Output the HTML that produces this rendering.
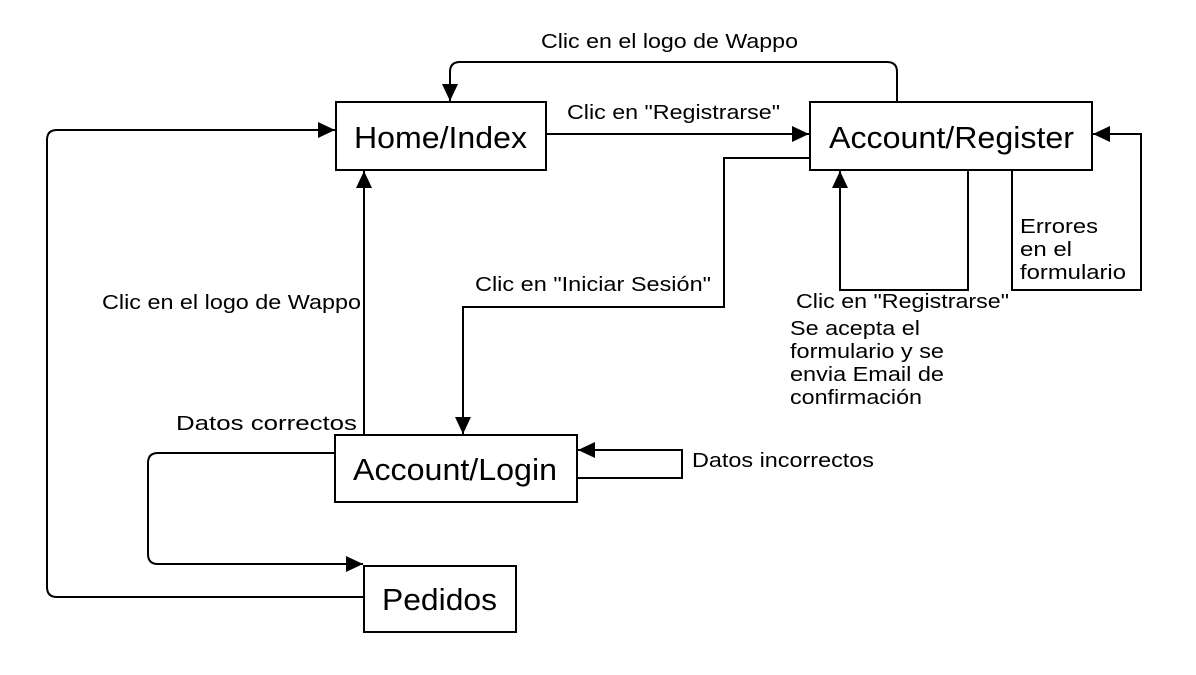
<!DOCTYPE html>
<html><head><meta charset="utf-8"><style>
html,body{margin:0;padding:0;background:#fff;}
svg text{font-family:"Liberation Sans",sans-serif;fill:#000;}
</style></head><body>
<svg width="1196" height="670" viewBox="0 0 1196 670" xmlns="http://www.w3.org/2000/svg">
<defs>
<marker id="b" markerWidth="18" markerHeight="18" refX="17" refY="9" orient="auto" markerUnits="userSpaceOnUse" viewBox="0 0 18 18"><path d="M0,1 L17,9 L0,17 z" fill="#000"/></marker></defs>
<g fill="none" stroke="#000" stroke-width="2">
<rect x="336" y="102" width="210" height="68" fill="#fff"/>
<rect x="810" y="102" width="282" height="68" fill="#fff"/>
<rect x="335" y="435" width="242" height="67" fill="#fff"/>
<rect x="364" y="566" width="152" height="66" fill="#fff"/>
<path d="M897,102 V72 Q897,62 887,62 H460 Q450,62 450,72 V101" marker-end="url(#b)"/>
<path d="M546,134 H809" marker-end="url(#b)"/>
<path d="M1012,170 V290 H1141 V134 H1093" marker-end="url(#b)"/>
<path d="M968,170 V290 H840 V171" marker-end="url(#b)"/>
<path d="M810,158 H724 V307 H463 V434" marker-end="url(#b)"/>
<path d="M364,435 V171" marker-end="url(#b)"/>
<path d="M577,478 H682 V450 H578" marker-end="url(#b)"/>
<path d="M335,453 H158 Q148,453 148,463 V554 Q148,564 158,564 H363" marker-end="url(#b)"/>
<path d="M364,597 H57 Q47,597 47,587 V140 Q47,130 57,130 H335" marker-end="url(#b)"/>
</g>
<g font-size="31" lengthAdjust="spacingAndGlyphs">
<text x="354" y="148" textLength="173" lengthAdjust="spacingAndGlyphs">Home/Index</text>
<text x="829" y="148" textLength="245" lengthAdjust="spacingAndGlyphs">Account/Register</text>
<text x="353" y="480" textLength="204" lengthAdjust="spacingAndGlyphs">Account/Login</text>
<text x="382" y="610" textLength="115" lengthAdjust="spacingAndGlyphs">Pedidos</text>
</g>
<g font-size="20">
<text x="541" y="48" textLength="257" lengthAdjust="spacingAndGlyphs">Clic en el logo de Wappo</text>
<text x="567" y="119" textLength="213" lengthAdjust="spacingAndGlyphs">Clic en "Registrarse"</text>
<text x="475" y="291" textLength="236" lengthAdjust="spacingAndGlyphs">Clic en "Iniciar Sesión"</text>
<text x="102" y="309" textLength="259" lengthAdjust="spacingAndGlyphs">Clic en el logo de Wappo</text>
<text x="796" y="308" textLength="213" lengthAdjust="spacingAndGlyphs">Clic en "Registrarse"</text>
<text x="790" y="335" textLength="130" lengthAdjust="spacingAndGlyphs">Se acepta el</text>
<text x="790" y="358" textLength="154" lengthAdjust="spacingAndGlyphs">formulario y se</text>
<text x="790" y="381" textLength="154" lengthAdjust="spacingAndGlyphs">envia Email de</text>
<text x="790" y="404" textLength="132" lengthAdjust="spacingAndGlyphs">confirmación</text>
<text x="1020" y="233" textLength="78" lengthAdjust="spacingAndGlyphs">Errores</text>
<text x="1020" y="256" textLength="52" lengthAdjust="spacingAndGlyphs">en el</text>
<text x="1020" y="279" textLength="106" lengthAdjust="spacingAndGlyphs">formulario</text>
<text x="176" y="430" textLength="181" lengthAdjust="spacingAndGlyphs">Datos correctos</text>
<text x="692" y="467" textLength="182" lengthAdjust="spacingAndGlyphs">Datos incorrectos</text>
</g>
</svg>
</body></html>
